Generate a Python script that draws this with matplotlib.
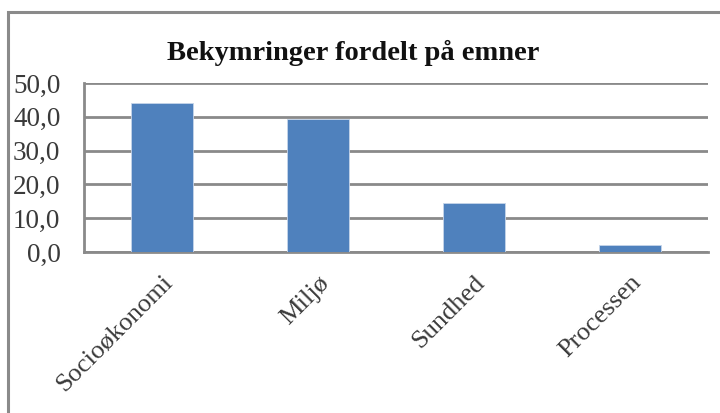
import matplotlib
matplotlib.use("Agg")
import matplotlib.pyplot as plt
from matplotlib.patches import Rectangle

categories = ["Socioøkonomi", "Miljø", "Sundhed", "Processen"]
values = [44.0, 39.4, 14.6, 2.1]
yticks = [0, 10, 20, 30, 40, 50]
ytick_labels = ["0,0", "10,0", "20,0", "30,0", "40,0", "50,0"]
title = "Bekymringer fordelt på emner"

W, H = 720, 413
fig = plt.figure(figsize=(W / 100, H / 100), dpi=100)
fig.patch.set_facecolor("white")

# outer chart border (left and top visible)
fig.patches.append(Rectangle((7.5 / W, -0.1), 1.2, 1.1 - 12 / H,
                             transform=fig.transFigure, fill=False,
                             edgecolor="#8a8a8a", linewidth=2.2))

ax = fig.add_axes([84 / W, 1 - 252 / H, (708 - 84) / W, (252 - 83) / H])
x = list(range(len(categories)))
ax.bar(x, values, width=0.4, color="#4F81BD", edgecolor="#c6d5ea", linewidth=0.6, zorder=3)
ax.set_xlim(-0.5, len(categories) - 0.5)
ax.set_ylim(0, 50)
ax.set_yticks(yticks)
ax.set_yticklabels(ytick_labels, fontfamily="Liberation Serif", fontsize=19.5, color="#3a3a3a")
ax.set_xticks(x)
ax.set_xticklabels(categories, rotation=45, ha="right", va="top", rotation_mode="anchor",
                   fontfamily="Liberation Serif", fontsize=19, color="#3a3a3a")
ax.tick_params(axis="both", length=0)
ax.tick_params(axis="y", pad=17)
ax.tick_params(axis="x", pad=14)
ax.grid(axis="y", color="#8a8a8a", linewidth=2.0, zorder=0)
for s in ["top", "right"]:
    ax.spines[s].set_visible(False)
for s in ["left", "bottom"]:
    ax.spines[s].set_color("#8a8a8a")
    ax.spines[s].set_linewidth(2.0)

fig.text(353 / W, 1 - 53 / H, title, ha="center", va="center",
         fontfamily="Liberation Serif", fontweight="bold", fontsize=20.5, color="#111111")

fig.savefig("out.png", dpi=100)
